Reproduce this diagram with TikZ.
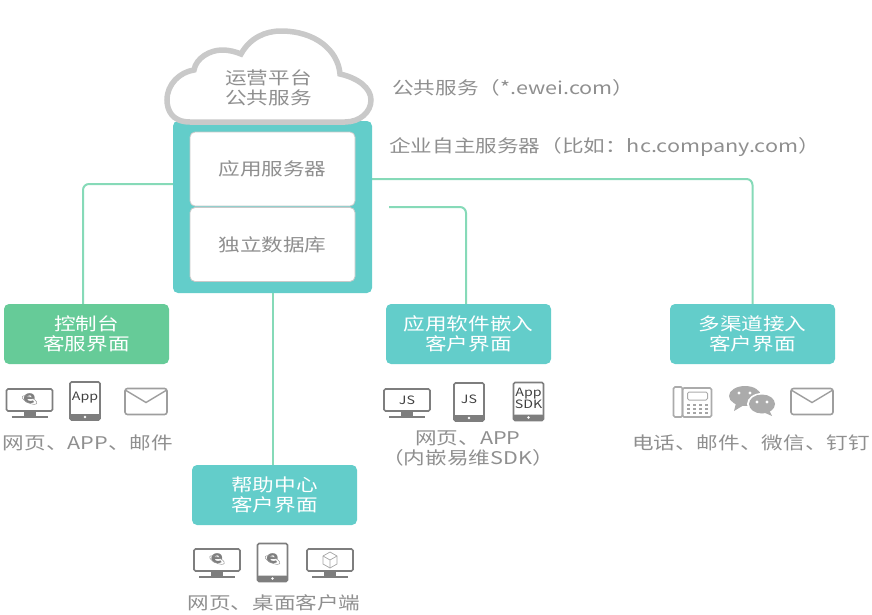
\documentclass[tikz,border=0pt]{standalone}
\usepackage{fontspec}
\setmainfont[FakeStretch=1.235]{Noto Sans CJK SC}
\usepackage{xcolor}
\usetikzlibrary{calc,positioning}
\definecolor{tealbox}{HTML}{63CDCA}
\definecolor{greenbox}{HTML}{66CB98}
\definecolor{linkgreen}{HTML}{86DAB8}
\definecolor{cloudgray}{HTML}{C9C9C9}
\definecolor{txtgray}{HTML}{8F8F8F}
\definecolor{icongray}{HTML}{7E7E7E}
\tikzset{
  label/.style = {draw=none, rounded corners=5pt, minimum width=165pt, minimum height=60pt, inner sep=0pt, align=center, text=white, font=\fontsize{17.5}{20}\selectfont},
  tier/.style = {draw=cloudgray, line width=.8pt, fill=white, rounded corners=5pt, minimum width=165pt, minimum height=74pt, inner sep=0pt, text=txtgray, font=\fontsize{17.5}{20}\selectfont},
  caption/.style = {inner sep=0pt, align=center, text=txtgray, font=\fontsize{17.5}{20}\selectfont},
  link/.style = {draw=linkgreen, line width=2pt, rounded corners=6pt},
  ico/.style = {draw=icongray, line width=1.6pt, rounded corners=1.5pt},
  monitor/.pic = {
    \draw[ico] (-23,-14) rectangle (23,8);
    \fill[icongray] (-6,8) rectangle (6,13);
    \draw[icongray, line width=1.6pt] (-18,14) -- (18,14);
    \node[inner sep=0pt, text=black!75, font=\fontsize{11.5}{11}\selectfont] (-txt) at (0,-3) {\tikzpictext};
  },
  tablet/.pic = {
    \draw[ico] (-15,-19) rectangle (15,19);
    \fill[icongray, rounded corners=1pt] (-15,13) rectangle (15,19);
    \fill[white] (0,16) circle (1.3);
    \node[inner sep=0pt, align=center, text=black!75, font=\fontsize{11.5}{12.5}\selectfont] (-txt) at (0,-3) {\tikzpictext};
  },
  iesign/.pic = {
    \node[inner sep=0pt, text=icongray, font=\fontsize{17}{17}\bfseries\itshape\selectfont] (-e) at (0,-1) {e};
    \draw[icongray!80, line width=.5pt, rotate=-25] (0,0) ellipse (8 and 3);
  },
  envelope/.pic = {
    \draw[ico, line width=1.6pt, rounded corners=2.5pt, draw=icongray!75] (-21,-13) rectangle (21,13);
    \draw[icongray!75, line width=1.4pt] (-20,-11) -- (0,1) -- (20,-11);
  },
  deskphone/.pic = {
    \draw[ico, draw=icongray!65] (-19,-15) rectangle (-10,15);
    \draw[ico, draw=icongray!65] (-10,-14) rectangle (19,15);
    \draw[ico, draw=icongray!65, line width=1pt] (-5,-10) rectangle (15,-2);
    \foreach \row in {3,7,11} {
      \foreach \col in {-4,2,8,14} {
        \fill[icongray!70] (\col-1.3,\row-1) rectangle (\col+1.3,\row+1);
      }
    }
  },
  wechat/.pic = {
    \fill[icongray!65] (-7,-4) ellipse (16 and 10);
    \fill[icongray!65] (-16,3) -- (-18,11) -- (-8,5) -- cycle;
    \fill[white] (-13,-7) circle (1.7) (-2,-7) circle (1.7);
    \fill[white] (10,4) ellipse (15 and 11);
    \fill[icongray!65] (10,4) ellipse (13 and 9.5);
    \fill[icongray!65] (17,10) -- (20,16) -- (11,12) -- cycle;
    \fill[white] (5,2) circle (1.6) (15,2) circle (1.6);
  },
  cubebox/.pic = {
    \draw[icongray!70, line width=.7pt] (0,-8) -- (7,-4) -- (7,4) -- (0,8) -- (-7,4) -- (-7,-4) -- cycle;
    \draw[icongray!70, line width=.7pt] (-7,-4) -- (0,0) -- (7,-4) (0,0) -- (0,8);
  }
}
\begin{document}
\begin{tikzpicture}[x=1pt, y=-1pt]
    \useasboundingbox (0,0) rectangle (872,614);
    \node[label, fill=greenbox] (console) at (86.5,334) {控制台\\客服界面};
    \node[label, fill=tealbox] (embed) at (468.5,334) {应用软件嵌入\\客户界面};
    \node[label, fill=tealbox] (channel) at (752.5,334) {多渠道接入\\客户界面};
    \node[label, fill=tealbox] (help) at (274.5,495) {帮助中心\\客户界面};

    \coordinate (tapleft) at (173,184);
    \coordinate (tapright) at (372,179);
    \coordinate (tapembed) at (389,207);
    \draw[link] (tapleft) -| ([xshift=-3.5pt]console.north);
    \draw[link] (tapright) -| (channel.north);
    \draw[link] (tapembed) -| ([xshift=-2.5pt]embed.north);

    \node[draw=none, fill=tealbox, rounded corners=5pt, minimum width=199pt, minimum height=172pt, inner sep=0pt] (platform) at (272.5,207) {};
    \draw[link] (platform.south) -- (platform.south |- help.north);
    \node[tier] (appsrv) at (272.5,169) {应用服务器};
    \node[tier] (database) at (272.5,244.5) {独立数据库};

    \draw[draw=cloudgray, fill=white, line width=5.5pt] (190,122) .. controls (172,122) and (167,110) .. (167,100)
      .. controls (167,84) and (180,72) .. (194,70) .. controls (196,58) and (210,50) .. (222,50)
      .. controls (230,50) and (236,52) .. (241,54) .. controls (250,38) and (265,31) .. (281,31)
      .. controls (315,31) and (338,50) .. (340,74) .. controls (358,78) and (371,88) .. (371,100)
      .. controls (371,112) and (360,122) .. (345,122) -- cycle;
    \node[caption] (cloud) at (268.5,88) {运营平台\\公共服务};

    \node[caption, anchor=west] (pubnote) at (392,88) {公共服务（*.ewei.com）};
    \node[caption, anchor=west] (ownnote) at (389,147) {企业自主服务器（比如：hc.company.com）};

    % console icons
    \pic (m1) at (29.5,403) {monitor};
    \pic at (29.5,400) {iesign};
    \pic[pic text=App] (t1) at (85,401) {tablet};
    \pic at (146,401.5) {envelope};
    \node[caption] (consolecap) at (88,443) {网页、APP、邮件};

    % embed icons
    \pic[pic text=JS] (m2) at (407,403) {monitor};
    \pic[pic text=JS] (t2) at (469,402) {tablet};
    \pic[pic text={App\\SDK}] (t3) at (528.5,401.5) {tablet};
    \node[caption] (embedcap) at (468,448) {网页、APP\\（内嵌易维SDK）};

    % channel icons
    \pic at (692.5,402) {deskphone};
    \pic at (752,400) {wechat};
    \pic at (812,401.5) {envelope};
    \node[caption] (channelcap) at (751,443) {电话、邮件、微信、钉钉};

    % help icons
    \pic (m3) at (217,563) {monitor};
    \pic at (217,560) {iesign};
    \pic (t4) at (272.5,562.5) {tablet};
    \pic at (272.5,560) {iesign};
    \pic (m4) at (330,563) {monitor};
    \pic at (330,560) {cubebox};
    \node[caption] (helpcap) at (274,603) {网页、桌面客户端};
\end{tikzpicture}
\end{document}
